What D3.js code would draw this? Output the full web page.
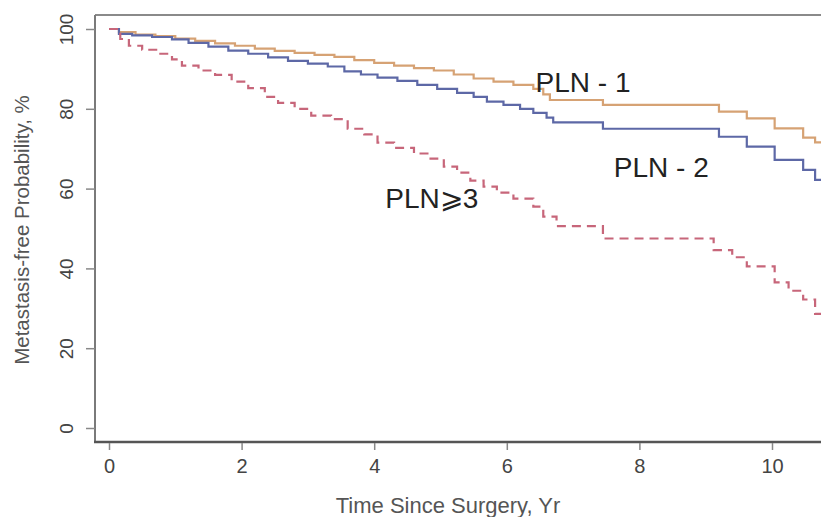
<!DOCTYPE html>
<html>
<head>
<meta charset="utf-8">
<script src="https://cdn.jsdelivr.net/npm/d3@7"></script>
<style>
  body { margin: 0; background: #fff; }
  svg { display: block; font-family: "Liberation Sans", Arial, sans-serif; }
  .tick text { fill: #444; }
</style>
</head>
<body>
<svg id="chart" width="821" height="517"></svg>
<script>
// Kaplan-Meier style step curves (percent)
var pln1Time = [0, 0.15, 0.4, 0.7, 1.0, 1.3, 1.6, 1.9, 2.2, 2.5, 2.8, 3.1, 3.4, 3.7, 4.0, 4.3, 4.6, 4.9, 5.2, 5.5, 5.8, 6.1, 6.4, 6.55, 6.65, 7.45, 9.2, 9.62, 10.04, 10.47, 10.65, 10.9];
var pln1Surv = [100, 99.2, 98.6, 98.2, 97.6, 97.0, 96.4, 95.8, 95.1, 94.5, 94.0, 93.5, 93.0, 92.2, 91.5, 90.8, 90.2, 89.6, 88.6, 87.6, 86.8, 86.0, 85.0, 83.6, 82.2, 81.0, 79.3, 77.6, 75.1, 72.8, 71.6, 71.6];

var pln2Time = [0, 0.15, 0.35, 0.65, 0.95, 1.2, 1.5, 1.8, 2.1, 2.4, 2.7, 3.0, 3.3, 3.55, 3.8, 4.05, 4.35, 4.65, 4.95, 5.25, 5.5, 5.7, 5.95, 6.2, 6.4, 6.6, 6.7, 7.45, 9.2, 9.62, 10.04, 10.47, 10.65, 10.9];
var pln2Surv = [100, 98.8, 98.4, 98.0, 97.4, 96.5, 95.6, 94.6, 93.8, 92.9, 92.0, 91.3, 90.6, 89.4, 88.6, 87.8, 87.0, 86.0, 85.0, 84.0, 83.0, 81.8, 81.0, 80.0, 79.0, 77.8, 76.6, 75.0, 73.0, 70.5, 67.2, 64.7, 62.2, 62.2];

var pln3Time = [0, 0.17, 0.3, 0.5, 0.75, 0.95, 1.1, 1.35, 1.6, 1.85, 2.1, 2.35, 2.55, 2.8, 3.05, 3.35, 3.6, 3.85, 4.05, 4.3, 4.6, 4.85, 5.05, 5.25, 5.45, 5.65, 5.85, 6.1, 6.4, 6.55, 6.75, 7.45, 9.12, 9.4, 9.62, 10.04, 10.25, 10.47, 10.65, 10.9];
var pln3Surv = [100, 97.5, 95.8, 94.8, 93.8, 92.4, 90.8, 89.6, 88.5, 86.8, 85.2, 83.0, 81.5, 80.0, 78.3, 77.4, 75.0, 73.6, 71.5, 70.2, 68.8, 67.5, 65.5, 64.0, 62.0, 60.5, 59.0, 57.5, 55.5, 53.0, 50.6, 47.5, 44.6, 42.8, 40.5, 36.5, 34.4, 32.2, 28.6, 28.6];

var xTicks = [0, 2, 4, 6, 8, 10];
var yTicks = [0, 20, 40, 60, 80, 100];

var groups = [
  { name: "PLN - 1", time: pln1Time, surv: pln1Surv, color: "#d6a274", dash: null, lx: 7.15, ly: 86 },
  { name: "PLN - 2", time: pln2Time, surv: pln2Surv, color: "#5d68a6", dash: null, lx: 8.33, ly: 64.7 },
  { name: "PLN\u2A7E3", time: pln3Time, surv: pln3Surv, color: "#c7667a", dash: "9,6", lx: 4.87, ly: 57.1 }
];

var svg = d3.select("#chart");

var x = d3.scaleLinear().domain([0, 10]).range([109, 772]);
var y = d3.scaleLinear().domain([0, 100]).range([428, 29]);

var boxLeft = 95, boxTop = 15, boxBottom = 442, boxRight = 840;

// frame (right side falls outside the picture)
svg.append("line")
  .attr("x1", boxLeft).attr("x2", boxRight)
  .attr("y1", boxTop).attr("y2", boxTop)
  .attr("stroke", "#8a8a8a").attr("stroke-width", 2);
svg.append("line")
  .attr("x1", boxLeft).attr("x2", boxLeft)
  .attr("y1", boxTop).attr("y2", boxBottom)
  .attr("stroke", "#7a7a7a").attr("stroke-width", 2);
svg.append("line")
  .attr("x1", boxLeft - 1).attr("x2", boxRight)
  .attr("y1", boxBottom).attr("y2", boxBottom)
  .attr("stroke", "#555").attr("stroke-width", 2.5);

// axes
var xAxis = svg.append("g")
  .attr("transform", "translate(0," + (boxBottom + 1) + ")")
  .call(d3.axisBottom(x).tickValues(xTicks).tickSize(7).tickPadding(9).tickFormat(d3.format("d")));
xAxis.select(".domain").remove();
xAxis.selectAll(".tick line").attr("stroke", "#888").attr("stroke-width", 1.5);
xAxis.selectAll(".tick text").attr("font-size", 20);

var yAxis = svg.append("g")
  .attr("transform", "translate(" + boxLeft + ",0)")
  .call(d3.axisLeft(y).tickValues(yTicks).tickSize(9).tickFormat(d3.format("d")));
yAxis.select(".domain").remove();
yAxis.selectAll(".tick line").attr("stroke", "#888").attr("stroke-width", 1.5);
yAxis.selectAll(".tick text")
  .attr("font-size", 19)
  .attr("text-anchor", "middle")
  .attr("x", 0).attr("dy", 0)
  .attr("transform", "translate(-27,0) rotate(-90)")
  .attr("dominant-baseline", "middle");

// axis titles
svg.append("text")
  .attr("x", 448).attr("y", 513)
  .attr("text-anchor", "middle")
  .attr("font-size", 22)
  .attr("fill", "#555")
  .text("Time Since Surgery, Yr");

svg.append("text")
  .attr("transform", "translate(29,230) rotate(-90)")
  .attr("text-anchor", "middle")
  .attr("font-size", 20.5)
  .attr("fill", "#555")
  .text("Metastasis-free Probability, %");

// curves
var line = d3.line()
  .x(function (d) { return x(d[0]); })
  .y(function (d) { return y(d[1]); })
  .curve(d3.curveStepAfter);

groups.forEach(function (g) {
  var pts = g.time.map(function (t, i) { return [t, g.surv[i]]; });
  svg.append("path")
    .datum(pts)
    .attr("fill", "none")
    .attr("stroke", g.color)
    .attr("stroke-width", 2.2)
    .attr("stroke-dasharray", g.dash)
    .attr("d", line);
});

// labels
svg.selectAll(".grp-label")
  .data(groups)
  .enter().append("text")
  .attr("class", "grp-label")
  .attr("x", function (d) { return x(d.lx); })
  .attr("y", function (d) { return y(d.ly); })
  .attr("text-anchor", "middle")
  .attr("dominant-baseline", "middle")
  .attr("font-size", 28)
  .attr("fill", "#222")
  .text(function (d) { return d.name; });
</script>
</body>
</html>
